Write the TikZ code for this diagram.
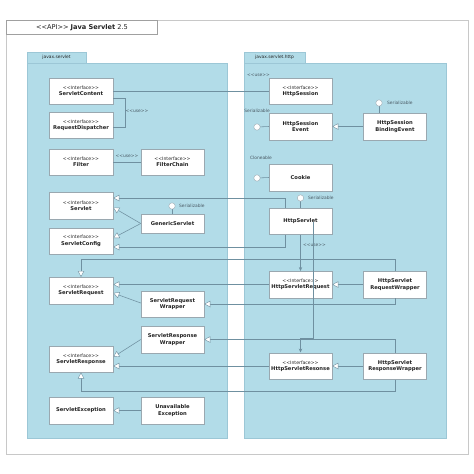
\documentclass[tikz,border=0pt]{standalone}
\usepackage{fontspec}
\setmainfont{DejaVu Sans}
\usetikzlibrary{arrows.meta,calc}
\definecolor{pkgblue}{HTML}{B2DCE8}
\definecolor{pkgedge}{HTML}{9CC7D6}
\definecolor{linec}{HTML}{6F90A0}
\definecolor{boxedge}{HTML}{9AA8B0}
\definecolor{framec}{HTML}{C8C8C8}
\definecolor{txtc}{HTML}{222222}
\definecolor{lblc}{HTML}{4A5A64}
\newcommand\stfont{\fontsize{4.6}{6.2}\selectfont}
\newcommand\nmfont{\fontsize{5.2}{6.2}\selectfont\bfseries}
\newcommand\ifcbox[1]{{\stfont<{}<Interface>{}>}\\{\nmfont #1}}
\begin{document}
\begin{tikzpicture}[x=1pt,y=-1pt,
  umlbox/.style={draw=boxedge,fill=white,line width=0.5pt,minimum width=64pt,minimum height=26.5pt,align=center,inner sep=1pt,text=txtc,font=\fontsize{5.2}{6.4}\selectfont},
  umlboxb/.style={umlbox,minimum width=63pt},
  conn/.style={draw=linec,line width=0.55pt},
  gen/.style={conn,-{Triangle[length=6pt,width=6.4pt,fill=white,line width=0.4pt]}},
  usearr/.style={conn,-{Stealth[length=4pt,width=3.4pt]}},
  lbl/.style={font=\fontsize{4.4}{5}\selectfont,text=lblc,inner sep=0pt},
  lolli/.style={draw=boxedge,fill=white,line width=0.4pt},
  pkg/.style={fill=pkgblue,draw=pkgedge,line width=0.4pt}]
\useasboundingbox (0,0) rectangle (474,474);
\fill[white] (0,0) rectangle (474,474);
% outer frame and title
\draw[framec,line width=0.8pt] (6,20) rectangle (468,454);
\draw[framec!80!black,line width=0.6pt,fill=white] (6,20) rectangle (157,34);
\node[font=\fontsize{6.6}{7}\selectfont,text=txtc] (title) at (82,27.5) {<{}<API>{}> \textbf{Java Servlet} 2.5};
% packages
\draw[pkg] (27,52) rectangle (86,63);
\draw[pkg] (27,63) rectangle (227,438);
\node[lbl,text=txtc] (p1) at (56.5,57.5) {javax.servlet};
\draw[pkg] (244,52) rectangle (305,63);
\draw[pkg] (244,63) rectangle (446,438);
\node[lbl,text=txtc] (p2) at (274.5,57.5) {javax.servlet.http};
% left package boxes
\node[umlbox] (sc) at (81,91) {\ifcbox{ServletContent}};
\node[umlbox] (rd) at (81,125) {\ifcbox{RequestDispatcher}};
\node[umlbox] (flt) at (81,162) {\ifcbox{Filter}};
\node[umlboxb] (fch) at (172.5,162) {\ifcbox{FilterChain}};
\node[umlbox] (srv) at (81,205.5) {\ifcbox{Servlet}};
\node[umlbox] (scfg) at (81,241) {\ifcbox{ServletConfig}};
\node[umlboxb,minimum height=19pt] (gs) at (172.5,223.5) {\nmfont GenericServlet};
\node[umlbox] (sreq) at (81,290.5) {\ifcbox{ServletRequest}};
\node[umlboxb] (srw) at (172.5,304) {\nmfont ServletRequest\\\nmfont Wrapper};
\node[umlboxb] (srespw) at (172.5,339.5) {\nmfont ServletResponse\\\nmfont Wrapper};
\node[umlbox] (sresp) at (81,359) {\ifcbox{ServletResponse}};
\node[umlbox] (se) at (81,410.5) {\nmfont ServletException};
\node[umlboxb] (ue) at (172.5,410.5) {\nmfont Unavailable\\\nmfont Exception};
% right package boxes
\node[umlboxb] (hsess) at (300.5,91) {\ifcbox{HttpSession}};
\node[umlboxb] (hse) at (300.5,126.5) {\nmfont HttpSession\\\nmfont Event};
\node[umlboxb] (hsbe) at (395,126.5) {\nmfont HttpSession\\\nmfont BindingEvent};
\node[umlboxb] (ck) at (300.5,177.5) {\nmfont Cookie};
\node[umlboxb] (hsv) at (300.5,221) {\nmfont HttpServlet};
\node[umlboxb] (hsreq) at (300.5,284.5) {\ifcbox{HttpServletRequest}};
\node[umlboxb] (hsrw) at (395,284.5) {\nmfont HttpServlet\\\nmfont RequestWrapper};
\node[umlboxb] (hsresp) at (300.5,366) {\ifcbox{HttpServletResonse}};
\node[umlboxb] (hsrespw) at (395,366) {\nmfont HttpServlet\\\nmfont ResponseWrapper};
% lollipops
\coordinate (l1) at (257,127);
\draw[conn] (l1) -- (hse.west);
\draw[lolli] (l1) circle (3.2);
\node[lbl] (l1t) at (257,110.5) {Serializable};
\coordinate (l2) at (257,178);
\draw[conn] (l2) -- (ck.west);
\draw[lolli] (l2) circle (3.2);
\node[lbl] (l2t) at (261,157.5) {Cloneable};
\coordinate (l3) at (300.5,198);
\draw[conn] (l3) -- (hsv.north);
\draw[lolli] (l3) circle (3.2);
\node[lbl,anchor=west] (l3t) at (308,198) {Serializable};
\coordinate (l4) at (172,206);
\draw[conn] (l4) -- (l4 |- gs.north);
\draw[lolli] (l4) circle (3.2);
\node[lbl,anchor=west] (l4t) at (179,206) {Serializable};
\coordinate (l5) at (379,103);
\draw[conn] (l5) -- (l5 |- hsbe.north);
\draw[lolli] (l5) circle (3.2);
\node[lbl,anchor=west] (l5t) at (387,103) {Serializable};
% connectors
\draw[conn] (sc.east) -- (hsess.west);
\node[lbl] (u1) at (258.5,75) {<{}<use>{}>};
\draw[conn] ($(sc.east)+(0,7)$) -- ++(12,0) |- ($(rd.east)+(0,2)$);
\node[lbl] (u2) at (137,111) {<{}<use>{}>};
\draw[conn] (flt.east) -- (fch.west);
\node[lbl] (u3) at (127,156) {<{}<use>{}>};
\draw[gen] (gs.west) -- ($(srv.east)+(0,2)$);
\draw[gen] (gs.west) -- ($(scfg.east)+(0,-3)$);
\draw[gen] ($(hsv.north)+(-15.5,0)$) |- ($(srv.east)+(0,-7.5)$);
\draw[gen] ($(hsv.south)+(-15.5,0)$) |- ($(scfg.east)+(0,6)$);
\draw[usearr] (hsv.south) -- (hsreq.north);
\node[lbl] (u4) at (314.5,245) {<{}<use>{}>};
\draw[usearr] ($(hsv.center)+(12.5,1)$) |- ($(hsresp.north)+(0,-14)$) -- (hsresp.north);
\draw[gen] (hsrw.north) -- ++(0,-12) -| (sreq.north);
\draw[gen] (hsreq.west) -- (hsreq.west -| sreq.east);
\draw[gen] ($(srw.west)+(0,-1)$) -- ($(sreq.east)+(0,2.5)$);
\draw[gen] (hsrw.south) |- (srw.east);
\draw[gen] (hsrw.west) -- (hsreq.east);
\draw[gen] (hsrespw.north) |- (srespw.east);
\draw[gen] (hsresp.west) -- (hsresp.west -| sresp.east);
\draw[gen] (srespw.west) -- ($(sresp.east)+(0,-2)$);
\draw[gen] (hsrespw.south) -- ++(0,12) -| (sresp.south);
\draw[gen] (hsrespw.west) -- (hsresp.east);
\draw[gen] (ue.west) -- (se.east);
\draw[gen] (hsbe.west) -- (hse.east);
\end{tikzpicture}
\end{document}
